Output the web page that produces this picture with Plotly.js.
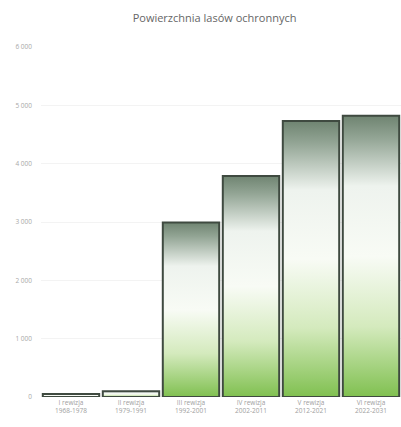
<!DOCTYPE html>
<html><head><meta charset="utf-8">
<script src="https://cdn.plot.ly/plotly-3.0.1.min.js"></script>
<style>html,body{margin:0;padding:0;background:#fff}#chart{width:401px;height:427px}</style>
</head><body><div id="chart"></div>
<script>
var categories = ["I rewizja<br>1968-1978","II rewizja<br>1979-1991","III rewizja<br>1992-2001","IV rewizja<br>2002-2011","V rewizja<br>2012-2021","VI rewizja<br>2022-2031"];
var areaValues = [50, 100, 2990, 3790, 4730, 4820];
var yTickValues = [0,1000,2000,3000,4000,5000,6000];
var yTickLabels = ["0","1 000","2 000","3 000","4 000","5 000","6 000"];

var trace = {
  type:'bar', x:categories, y:areaValues,
  marker:{color:'#c8dcc0', line:{color:'#3f4a40', width:2}},
  hoverinfo:'none'
};
var layout = {
  width:401, height:427,
  margin:{l:41,r:0,t:47,b:30},
  paper_bgcolor:'#fff', plot_bgcolor:'#fff',
  bargap:0.06,
  showlegend:false,
  title:{text:'Powierzchnia lasów ochronnych', x:0.535, xanchor:'center', y:0.957, yanchor:'middle',
         font:{family:'Open Sans, sans-serif', size:11, color:'#666'}},
  xaxis:{type:'category', showgrid:false, zeroline:false, showline:false, ticks:'',
         tickfont:{family:'Open Sans, sans-serif', size:6.5, color:'#a0a0a0'}},
  yaxis:{range:[0,6000], tickvals:yTickValues, ticktext:yTickLabels, showgrid:true, gridcolor:'#f3f3f3',
         zeroline:false, showline:false, ticks:'', ticklabelstandoff:8,
         tickfont:{family:'Open Sans, sans-serif', size:6.5, color:'#a8a8a8'}}
};
Plotly.newPlot('chart',[trace],layout,{staticPlot:true,displayModeBar:false}).then(function(gd){
  var svg = gd.querySelector('svg.main-svg');
  var ns='http://www.w3.org/2000/svg';
  var defs = svg.querySelector('defs') || svg.insertBefore(document.createElementNS(ns,'defs'), svg.firstChild);
  var g = document.createElementNS(ns,'linearGradient');
  g.setAttribute('id','barGrad'); g.setAttribute('x1','0'); g.setAttribute('y1','0'); g.setAttribute('x2','0'); g.setAttribute('y2','1');
  [[0,'#6f8471'],[0.08,'#93a595'],[0.25,'#eef3ee'],[0.5,'#f8fbf5'],[0.75,'#d4eabd'],[1,'#80c050']].forEach(function(s){
    var st=document.createElementNS(ns,'stop'); st.setAttribute('offset',s[0]); st.setAttribute('stop-color',s[1]); g.appendChild(st);
  });
  defs.appendChild(g);
  gd.querySelectorAll('.trace.bars .point path').forEach(function(p){ p.style.fill='url(#barGrad)'; });
});
</script></body></html>
